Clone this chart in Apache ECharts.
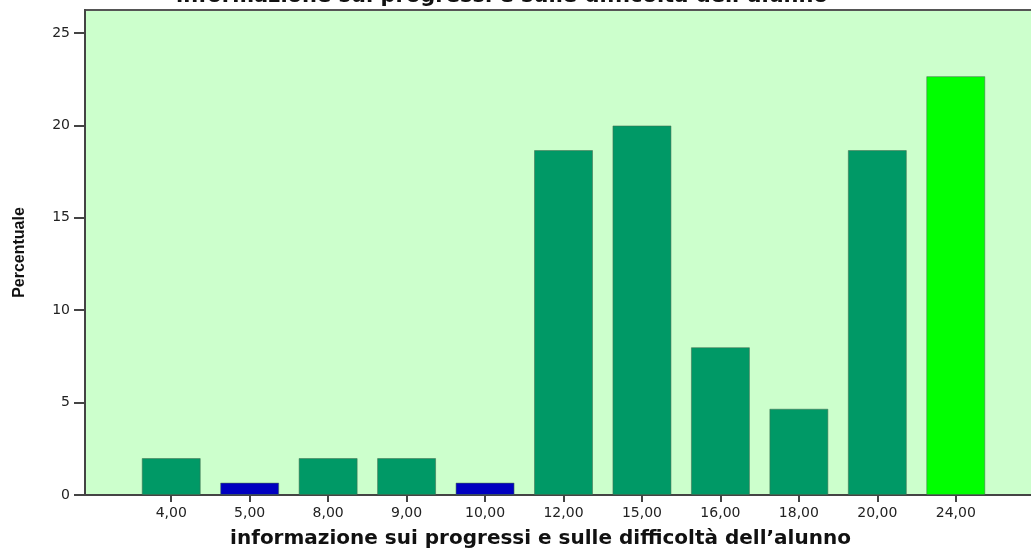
<!DOCTYPE html>
<html>
<head>
<meta charset="utf-8">
<style>
  html, body { margin: 0; padding: 0; background: #ffffff; }
  #chart { width: 1031px; height: 550px; }
</style>
<script src="https://cdn.jsdelivr.net/npm/echarts@6/dist/echarts.min.js"></script>
</head>
<body>
<div id="chart"></div>
<script>
const categories = ['4,00', '5,00', '8,00', '9,00', '10,00', '12,00', '15,00', '16,00', '18,00', '20,00', '24,00'];
const percentages = [2.0, 0.67, 2.0, 2.0, 0.67, 18.67, 20.0, 8.0, 4.67, 18.67, 22.67];
const barColors = ['#009966', '#0000C0', '#009966', '#009966', '#0000C0', '#009966', '#009966', '#009966', '#009966', '#009966', '#00FF00'];
const yTicks = [0, 5, 10, 15, 20, 25];
const titleText = 'informazione sui progressi e sulle difficoltà dell\u2019alunno';
const xAxisTitle = 'informazione sui progressi e sulle difficoltà dell\u2019alunno';
const yAxisTitle = 'Percentuale';

const chart = echarts.init(document.getElementById('chart'), null, { renderer: 'canvas' });
const yMax = 26.25;

chart.setOption({
  animation: false,
  backgroundColor: '#ffffff',
  title: {
    text: titleText,
    left: 497,
    textAlign: 'center',
    top: -19,
    textStyle: { fontFamily: 'DejaVu Sans', fontWeight: 'bold', fontSize: 21, color: '#111' }
  },
  grid: [
    { left: 85, right: -10, top: 10, bottom: 55, outerBoundsMode: 'none', containLabel: false, show: true, backgroundColor: '#CCFFCC', borderColor: '#555', borderWidth: 2 },
    { left: 132, right: 36, top: 10, bottom: 55, outerBoundsMode: 'none', containLabel: false }
  ],
  xAxis: [
    { gridIndex: 0, type: 'value', min: 0, max: 1, axisLine: { show: true, onZero: false, lineStyle: { color: '#444', width: 2 } }, axisTick: { show: false }, axisLabel: { show: false }, splitLine: { show: false } },
    {
      gridIndex: 1, type: 'category', data: categories, boundaryGap: true,
      name: xAxisTitle, nameLocation: 'middle', nameGap: 34,
      nameTextStyle: { fontFamily: 'DejaVu Sans', fontWeight: 'bold', fontSize: 20, color: '#111', padding: [0, 46, 0, 0] },
      axisLine: { show: false },
      axisTick: { show: true, alignWithLabel: true, length: 7, lineStyle: { color: '#444', width: 2 } },
      axisLabel: { margin: 11, fontFamily: 'DejaVu Sans', fontSize: 14, color: '#222' }
    }
  ],
  yAxis: [
    {
      gridIndex: 0, type: 'value', min: 0, max: yMax,
      name: yAxisTitle, nameLocation: 'middle', nameGap: 57, nameRotate: 90,
      nameTextStyle: { fontFamily: 'Liberation Sans Narrow, Liberation Sans', fontWeight: 'bold', fontSize: 16, color: '#111' },
      axisLine: { show: true, lineStyle: { color: '#444', width: 2 } },
      axisTick: { show: true, length: 11, customValues: yTicks, lineStyle: { color: '#444', width: 2 } },
      axisLabel: { margin: 15, customValues: yTicks, fontFamily: 'DejaVu Sans', fontSize: 14, color: '#222' },
      splitLine: { show: false }
    },
    { gridIndex: 1, type: 'value', min: 0, max: yMax, show: false, splitLine: { show: false } }
  ],
  series: [
    {
      type: 'bar', xAxisIndex: 1, yAxisIndex: 1,
      barWidth: 59,
      data: percentages.map((v, i) => ({ value: v, itemStyle: { color: barColors[i] } })),
      itemStyle: { borderColor: 'rgba(70,110,80,0.55)', borderWidth: 1 }
    }
  ]
});
</script>
</body>
</html>
